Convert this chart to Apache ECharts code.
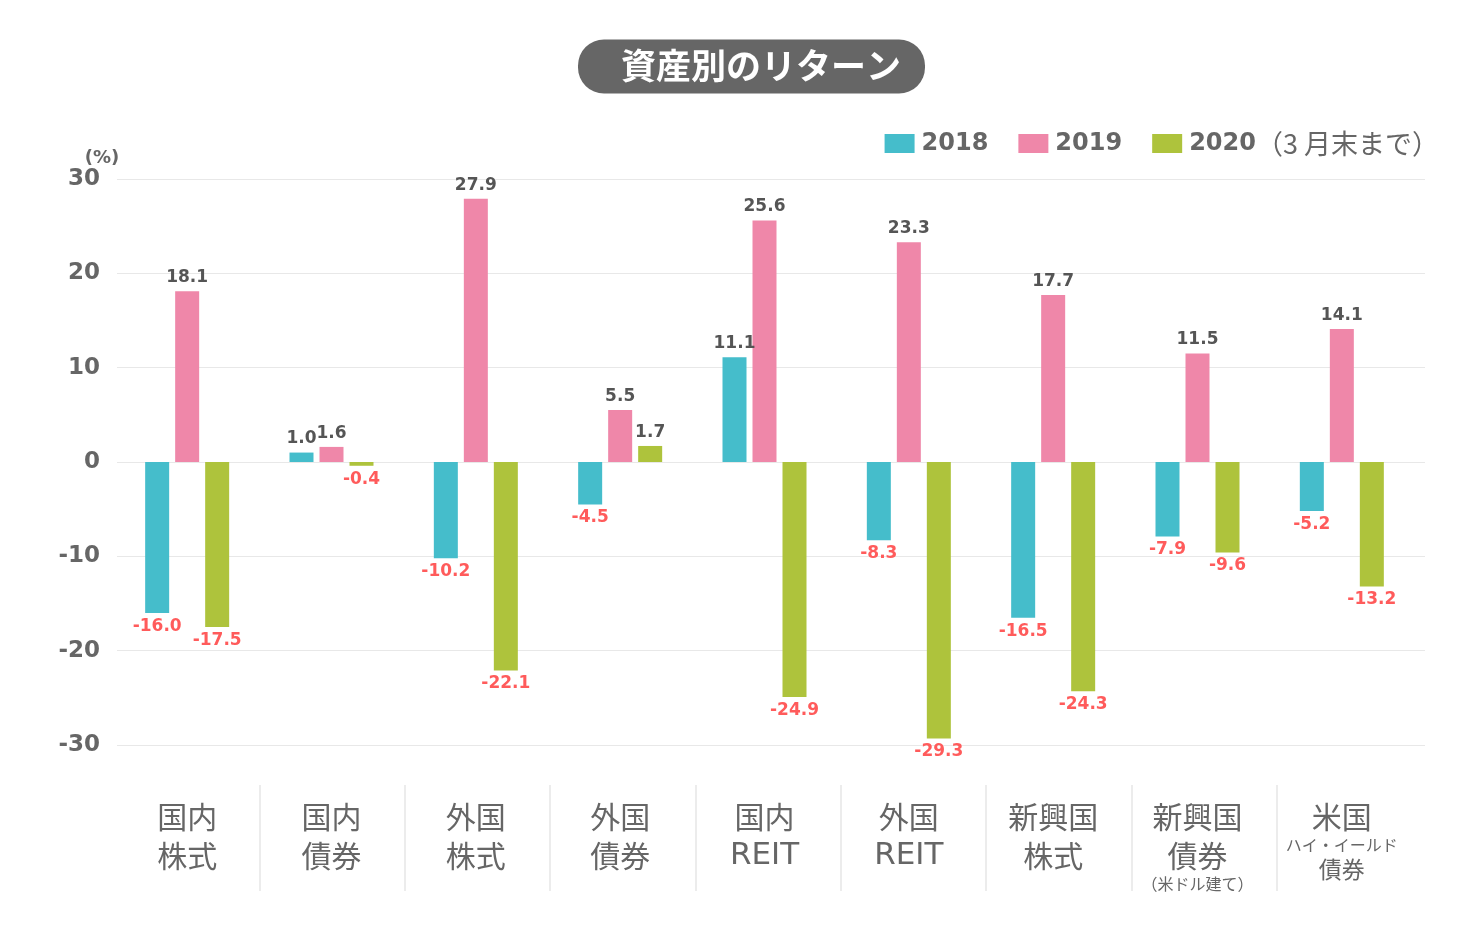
<!DOCTYPE html>
<html><head><meta charset="utf-8">
<script src="https://cdn.jsdelivr.net/npm/echarts@6/dist/echarts.min.js"></script>
<style>html,body{margin:0;padding:0;background:#fff}#c{width:1480px;height:950px}</style>
</head><body><div id="c"></div>
<script>
const titleText = '資産別のリターン';
const categories = ['国内\n株式', '国内\n債券', '外国\n株式', '外国\n債券', '国内\nREIT', '外国\nREIT', '新興国\n株式', '新興国\n債券\n（米ドル建て）', '米国\nハイ・イールド\n債券'];
const seriesNames = ['2018', '2019', '2020（3 月末まで）'];
const values2018 = [-16.0, 1.0, -10.2, -4.5, 11.1, -8.3, -16.5, -7.9, -5.2];
const values2019 = [18.1, 1.6, 27.9, 5.5, 25.6, 23.3, 17.7, 11.5, 14.1];
const values2020 = [-17.5, -0.4, -22.1, 1.7, -24.9, -29.3, -24.3, -9.6, -13.2];
const yTicks = { min: -30, max: 30, interval: 10 };
const colors = ['#45bdcb', '#ef87a9', '#aec33c'];

const NUM = 'DejaVu Sans';
const JP = '"Noto Sans CJK JP", sans-serif';

function mkData(arr) {
  return arr.map(v => ({
    value: v,
    label: {
      position: v < 0 ? 'bottom' : 'top',
      color: v < 0 ? '#ff5b5b' : '#555555'
    }
  }));
}
function mkSeries(name, arr, i) {
  return {
    name: name, type: 'bar', data: mkData(arr),
    xAxisIndex: 0, yAxisIndex: 0,
    barWidth: 24, barGap: '25%',
    itemStyle: { color: colors[i] },
    label: {
      show: true, fontFamily: NUM, fontWeight: 'bold', fontSize: 17, distance: 5,
      formatter: p => p.value.toFixed(1)
    }
  };
}
function catFormatter(val) {
  const lines = val.split('\n');
  let styles;
  if (lines.length === 3) {
    styles = lines[2].startsWith('（') ? ['a', 'a', 's'] : ['a', 's', 'm'];
  } else {
    styles = lines.map(ln => /^[A-Z]+$/.test(ln) ? 'r' : 'a');
  }
  return lines.map((ln, i) => '{' + styles[i] + '|' + ln + '}').join('\n');
}

const chart = echarts.init(document.getElementById('c'));
chart.setOption({
  backgroundColor: '#ffffff',
  animation: false,
  title: {
    text: titleText, left: 578, top: 40,
    backgroundColor: '#666666', borderRadius: 26,
    padding: [9, 24, 10, 43],
    textStyle: { color: '#ffffff', fontFamily: JP, fontWeight: 'bold', fontSize: 35, lineHeight: 34 }
  },
  legend: {
    right: 36, top: 125, itemWidth: 30, itemHeight: 19, itemGap: 30,
    selectedMode: false,
    icon: 'rect',
    data: seriesNames,
    formatter: name => {
      const m = name.match(/^(\d+)(.*)$/);
      return '{b|' + m[1] + '}' + (m[2] ? '{n|' + m[2] + '}' : '');
    },
    textStyle: {
      color: '#666666', padding: [0, 0, 0, 2],
      rich: {
        b: { fontFamily: NUM, fontWeight: 'bold', fontSize: 24, color: '#666666' },
        n: { fontFamily: JP, fontSize: 27, color: '#666666' }
      }
    }
  },
  grid: [
    { left: 115, right: 66, top: 179, bottom: 205 },
    { left: 114, right: 58, top: 785, height: 106 },
    { left: 117, right: 55, top: 179, bottom: 205 }
  ],
  xAxis: [
    {
      type: 'category', data: categories, gridIndex: 0,
      axisLine: { show: false }, axisTick: { show: false },
      axisLabel: {
        interval: 0, margin: 52, color: '#666666', formatter: catFormatter,
        rich: {
          a: { fontFamily: JP, fontSize: 30, lineHeight: 39, color: '#666666' },
          r: { fontFamily: NUM, fontSize: 31, lineHeight: 39, color: '#666666' },
          s: { fontFamily: JP, fontSize: 16, lineHeight: 18, color: '#666666' },
          m: { fontFamily: JP, fontSize: 23, lineHeight: 30, color: '#666666' }
        }
      }
    },
    {
      type: 'category', data: categories, gridIndex: 1,
      axisLine: { show: false }, axisTick: { show: false }, axisLabel: { show: false },
      splitLine: { show: true, interval: 0, showMinLine: false, showMaxLine: false, lineStyle: { color: '#e6e6e6', width: 1.5 } }
    },
    { type: 'value', gridIndex: 2, show: false, min: 0, max: 1 }
  ],
  yAxis: [
    {
      type: 'value', gridIndex: 0, min: yTicks.min, max: yTicks.max, interval: yTicks.interval,
      name: '(%)', nameLocation: 'end', nameGap: 10,
      nameTextStyle: { fontFamily: NUM, fontWeight: 'bold', fontSize: 18, color: '#666666', padding: [0, 26, 0, 0] },
      axisLine: { show: false }, axisTick: { show: false },
      axisLabel: { fontFamily: NUM, fontWeight: 'bold', fontSize: 23, color: '#666666', margin: 15 },
      splitLine: { show: false }
    },
    { type: 'value', gridIndex: 1, show: false, min: 0, max: 1, splitLine: { show: false } },
    {
      type: 'value', gridIndex: 2, min: yTicks.min, max: yTicks.max, interval: yTicks.interval,
      axisLine: { show: false }, axisTick: { show: false }, axisLabel: { show: false },
      splitLine: { show: true, lineStyle: { color: '#e8e8e8', width: 1 } }
    }
  ],
  series: [
    mkSeries(seriesNames[0], values2018, 0),
    mkSeries(seriesNames[1], values2019, 1),
    mkSeries(seriesNames[2], values2020, 2)
  ]
});
</script></body></html>
